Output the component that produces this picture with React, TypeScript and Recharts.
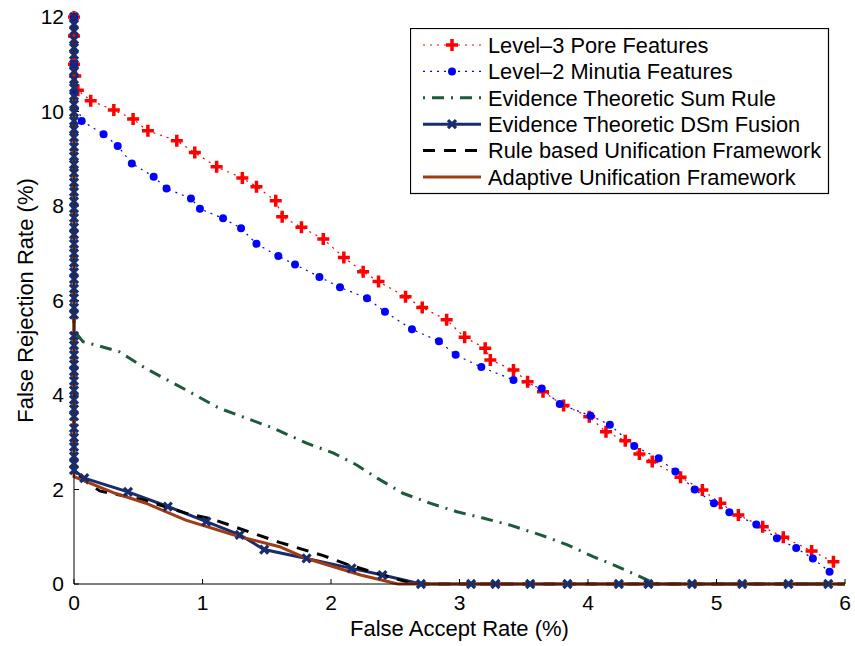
import React from "react";
import { LineChart, Line, XAxis, YAxis } from "recharts";

const FONT = "'Liberation Sans', Arial, Helvetica, sans-serif";

// False Accept Rate (%) vs False Rejection Rate (%)
const pore = [
  { x: 0, y: 12 }, { x: 0, y: 11.6 }, { x: 0, y: 11.0 }, { x: 0.01, y: 10.75 },
  { x: 0.03, y: 10.45 }, { x: 0.13, y: 10.23 }, { x: 0.31, y: 10.03 }, { x: 0.46, y: 9.84 },
  { x: 0.575, y: 9.59 }, { x: 0.8, y: 9.38 }, { x: 0.94, y: 9.13 }, { x: 1.11, y: 8.83 },
  { x: 1.31, y: 8.59 }, { x: 1.42, y: 8.41 }, { x: 1.57, y: 8.11 }, { x: 1.62, y: 7.77 },
  { x: 1.77, y: 7.55 }, { x: 1.94, y: 7.3 }, { x: 2.1, y: 6.91 }, { x: 2.25, y: 6.61 },
  { x: 2.37, y: 6.4 }, { x: 2.58, y: 6.08 }, { x: 2.71, y: 5.85 }, { x: 2.9, y: 5.59 },
  { x: 3.04, y: 5.22 }, { x: 3.2, y: 4.99 }, { x: 3.24, y: 4.74 }, { x: 3.42, y: 4.53 },
  { x: 3.53, y: 4.28 }, { x: 3.65, y: 4.07 }, { x: 3.81, y: 3.78 }, { x: 4.01, y: 3.54 },
  { x: 4.14, y: 3.22 }, { x: 4.29, y: 3.03 }, { x: 4.4, y: 2.75 }, { x: 4.5, y: 2.59 },
  { x: 4.72, y: 2.26 }, { x: 4.89, y: 1.99 }, { x: 5.03, y: 1.71 }, { x: 5.17, y: 1.46 },
  { x: 5.36, y: 1.21 }, { x: 5.52, y: 0.99 }, { x: 5.74, y: 0.7 }, { x: 5.91, y: 0.47 },
];

const minutia = [
  { x: 0, y: 12 }, { x: 0, y: 11.0 }, { x: 0, y: 10.4 }, { x: 0.06, y: 9.8 },
  { x: 0.23, y: 9.52 }, { x: 0.34, y: 9.27 }, { x: 0.45, y: 8.9 }, { x: 0.62, y: 8.62 },
  { x: 0.72, y: 8.37 }, { x: 0.91, y: 8.16 }, { x: 0.98, y: 7.94 }, { x: 1.16, y: 7.74 },
  { x: 1.3, y: 7.53 }, { x: 1.42, y: 7.2 }, { x: 1.59, y: 6.94 }, { x: 1.72, y: 6.76 },
  { x: 1.91, y: 6.5 }, { x: 2.07, y: 6.28 }, { x: 2.28, y: 6.05 }, { x: 2.42, y: 5.76 },
  { x: 2.63, y: 5.39 }, { x: 2.84, y: 5.14 }, { x: 2.97, y: 4.85 }, { x: 3.17, y: 4.59 },
  { x: 3.42, y: 4.32 }, { x: 3.64, y: 4.14 }, { x: 3.78, y: 3.81 }, { x: 4.02, y: 3.56 },
  { x: 4.17, y: 3.37 }, { x: 4.36, y: 2.92 }, { x: 4.55, y: 2.66 }, { x: 4.68, y: 2.38 },
  { x: 4.83, y: 2.0 }, { x: 4.98, y: 1.71 }, { x: 5.1, y: 1.52 }, { x: 5.31, y: 1.26 },
  { x: 5.47, y: 0.97 }, { x: 5.62, y: 0.76 }, { x: 5.75, y: 0.54 }, { x: 5.88, y: 0.26 },
];

const sumRule = [
  { x: 0.02, y: 5.3 }, { x: 0.07, y: 5.13 }, { x: 0.35, y: 4.92 }, { x: 0.56, y: 4.56 },
  { x: 0.87, y: 4.11 }, { x: 1.13, y: 3.72 }, { x: 1.34, y: 3.51 }, { x: 1.55, y: 3.3 },
  { x: 1.81, y: 2.98 }, { x: 2.02, y: 2.77 }, { x: 2.2, y: 2.52 }, { x: 2.36, y: 2.24 },
  { x: 2.56, y: 1.92 }, { x: 2.77, y: 1.71 }, { x: 2.98, y: 1.53 }, { x: 3.19, y: 1.39 },
  { x: 3.39, y: 1.25 }, { x: 3.63, y: 1.04 }, { x: 3.84, y: 0.83 }, { x: 4.04, y: 0.58 },
  { x: 4.23, y: 0.37 }, { x: 4.49, y: 0.05 }, { x: 4.55, y: 0 }, { x: 6, y: 0 },
];

const dsm = [
  { x: 0, y: 12 }, { x: 0, y: 11.85 }, { x: 0, y: 11.7 }, { x: 0, y: 11.52 }, { x: 0, y: 11.35 },
  { x: 0, y: 11.2 }, { x: 0, y: 11.0 }, { x: 0, y: 10.85 }, { x: 0, y: 10.68 }, { x: 0, y: 10.5 },
  { x: 0, y: 10.33 }, { x: 0, y: 10.15 }, { x: 0, y: 9.98 }, { x: 0, y: 9.8 }, { x: 0, y: 9.62 },
  { x: 0, y: 9.45 }, { x: 0, y: 9.25 }, { x: 0, y: 9.05 }, { x: 0, y: 8.88 }, { x: 0, y: 8.7 },
  { x: 0, y: 8.5 }, { x: 0, y: 8.3 }, { x: 0, y: 8.1 }, { x: 0, y: 7.95 }, { x: 0, y: 7.75 },
  { x: 0, y: 7.55 }, { x: 0, y: 7.4 }, { x: 0, y: 7.2 }, { x: 0, y: 7.0 }, { x: 0, y: 6.8 },
  { x: 0, y: 6.6 }, { x: 0, y: 6.45 }, { x: 0, y: 6.25 }, { x: 0, y: 6.05 }, { x: 0, y: 5.85 },
  { x: 0, y: 5.7 }, { x: 0, y: 5.25 }, { x: 0, y: 5.05 }, { x: 0, y: 4.85 }, { x: 0, y: 4.65 },
  { x: 0, y: 4.5 }, { x: 0, y: 4.3 }, { x: 0, y: 4.1 }, { x: 0, y: 3.9 }, { x: 0, y: 3.7 },
  { x: 0, y: 3.55 }, { x: 0, y: 3.3 }, { x: 0, y: 3.1 }, { x: 0, y: 2.9 }, { x: 0, y: 2.7 },
  { x: 0, y: 2.55 }, { x: 0, y: 2.41 }, { x: 0.08, y: 2.24 }, { x: 0.42, y: 1.95 },
  { x: 0.73, y: 1.64 }, { x: 1.03, y: 1.32 }, { x: 1.29, y: 1.04 }, { x: 1.48, y: 0.73 },
  { x: 1.81, y: 0.54 }, { x: 2.16, y: 0.33 }, { x: 2.4, y: 0.19 }, { x: 2.7, y: 0 },
  { x: 3.09, y: 0 }, { x: 3.28, y: 0 }, { x: 3.55, y: 0 }, { x: 3.84, y: 0 }, { x: 4.24, y: 0 },
  { x: 4.47, y: 0 }, { x: 4.81, y: 0 }, { x: 5.2, y: 0 }, { x: 5.56, y: 0 }, { x: 5.87, y: 0 },
];

const ruleBased = [
  { x: 0, y: 12 }, { x: 0, y: 2.34 }, { x: 0.2, y: 1.97 }, { x: 0.54, y: 1.78 },
  { x: 0.87, y: 1.5 }, { x: 1.08, y: 1.37 }, { x: 1.26, y: 1.2 }, { x: 1.6, y: 0.88 },
  { x: 1.94, y: 0.6 }, { x: 2.12, y: 0.42 }, { x: 2.45, y: 0.15 }, { x: 2.65, y: 0 },
  { x: 6, y: 0 },
];

const adaptive = [
  { x: 0, y: 12 }, { x: 0, y: 2.27 }, { x: 0.32, y: 1.92 }, { x: 0.56, y: 1.71 },
  { x: 0.87, y: 1.35 }, { x: 1.29, y: 1.0 }, { x: 1.6, y: 0.79 }, { x: 1.81, y: 0.54 },
  { x: 2.23, y: 0.19 }, { x: 2.52, y: 0 }, { x: 6, y: 0 },
];

const xTicks = [0, 1, 2, 3, 4, 5, 6];
const yTicks = [0, 2, 4, 6, 8, 10, 12];

const RED = "#ff0000";
const BLUE = "#0000ff";
const GREEN = "#1e5a3a";
const NAVY = "#172d6e";
const BROWN = "#a03c14";

const PlusDot = (p: any) => {
  const { cx, cy, index } = p;
  if (cx == null || cy == null) return <g key={index} />;
  return (
    <path
      key={index}
      d={`M${cx - 6},${cy}H${cx + 6}M${cx},${cy - 6}V${cy + 6}`}
      stroke={RED}
      strokeWidth={3.5}
      fill="none"
    />
  );
};

const CircleDot = (p: any) => {
  const { cx, cy, index } = p;
  if (cx == null || cy == null) return <g key={index} />;
  return <circle key={index} cx={cx} cy={cy} r={4} fill={BLUE} stroke="none" />;
};

const CrossDot = (p: any) => {
  const { cx, cy, index } = p;
  if (cx == null || cy == null) return <g key={index} />;
  return (
    <path
      key={index}
      d={`M${cx - 4},${cy - 4}L${cx + 4},${cy + 4}M${cx - 4},${cy + 4}L${cx + 4},${cy - 4}`}
      stroke={NAVY}
      strokeWidth={3.2}
      fill="none"
    />
  );
};

const legendRows = [
  { name: "Level–3 Pore Features", color: RED, dash: "2 5", width: 1.2, marker: "plus" },
  { name: "Level–2 Minutia Features", color: BLUE, dash: "2 5", width: 1.2, marker: "circle" },
  { name: "Evidence Theoretic Sum Rule", color: GREEN, dash: "2 7 12 7", width: 3, marker: "" },
  { name: "Evidence Theoretic DSm Fusion", color: NAVY, dash: "", width: 3, marker: "cross" },
  { name: "Rule based Unification Framework", color: "#000", dash: "12 9", width: 3, marker: "" },
  { name: "Adaptive Unification Framework", color: BROWN, dash: "", width: 3, marker: "" },
];

const LegendBox = () => (
  <svg
    width={420}
    height={167}
    style={{ position: "absolute", left: 410, top: 28 }}
  >
    <rect x={0.5} y={0.5} width={418} height={165} fill="#fff" stroke="#000" strokeWidth={1.2} />
    {legendRows.map((r, i) => {
      const y = 17 + i * 26.4;
      return (
        <g key={r.name}>
          <line
            x1={13}
            x2={71}
            y1={y}
            y2={y}
            stroke={r.color}
            strokeWidth={r.width}
            strokeDasharray={r.dash || undefined}
          />
          {r.marker === "plus" && (
            <path d={`M36,${y}H48M42,${y - 6}V${y + 6}`} stroke={RED} strokeWidth={3.5} />
          )}
          {r.marker === "circle" && <circle cx={42} cy={y} r={4} fill={BLUE} />}
          {r.marker === "cross" && (
            <path
              d={`M38,${y - 4}L46,${y + 4}M38,${y + 4}L46,${y - 4}`}
              stroke={NAVY}
              strokeWidth={3.2}
            />
          )}
          <text x={78} y={y} dy="0.36em" fontSize={21.8} fontFamily={FONT} fill="#000">
            {r.name}
          </text>
        </g>
      );
    })}
  </svg>
);

const YLabel = (props: any) => {
  const vb = props.viewBox || {};
  const cy = (vb.y || 17) + (vb.height || 567) / 2;
  return (
    <text
      x={25}
      y={cy}
      transform={`rotate(-90, 25, ${cy})`}
      textAnchor="middle"
      dominantBaseline="central"
      fontSize={22}
      fontFamily={FONT}
      fill="#000"
    >
      False Rejection Rate (%)
    </text>
  );
};

const tickStyle = { fill: "#000", fontSize: 21, fontFamily: FONT };

export default function App() {
  return (
    <div style={{ position: "absolute", left: 0, top: 0, width: 855, height: 646, background: "#fff" }}>
      <LineChart width={855} height={646} margin={{ top: 17, right: 10, bottom: 0, left: 0 }}>
        <XAxis
          dataKey="x"
          type="number"
          domain={[0, 6]}
          ticks={xTicks}
          height={62}
          stroke="#000"
          tickSize={-5}
          tickMargin={16}
          tick={tickStyle}
          label={{
            value: "False Accept Rate (%)",
            position: "insideBottom",
            offset: 10,
            fill: "#000",
            fontSize: 22,
            fontFamily: FONT,
          }}
        />
        <XAxis
          xAxisId="top"
          dataKey="x"
          type="number"
          orientation="top"
          domain={[0, 6]}
          ticks={xTicks}
          height={0}
          stroke="#000"
          tickSize={-5}
          tick={false}
        />
        <YAxis
          type="number"
          domain={[0, 12]}
          ticks={yTicks}
          width={74}
          stroke="#000"
          tickSize={-5}
          tickMargin={15}
          tick={tickStyle}
          label={<YLabel />}
        />
        <YAxis
          yAxisId="right"
          orientation="right"
          type="number"
          domain={[0, 12]}
          ticks={yTicks}
          width={0}
          stroke="#000"
          tickSize={-5}
          tick={false}
        />
        <Line
          data={pore}
          dataKey="y"
          type="linear"
          stroke={RED}
          strokeWidth={1.2}
          strokeDasharray="2 5"
          dot={PlusDot}
          activeDot={false}
          isAnimationActive={false}
        />
        <Line
          data={minutia}
          dataKey="y"
          type="linear"
          stroke={BLUE}
          strokeWidth={1.2}
          strokeDasharray="2 5"
          dot={CircleDot}
          activeDot={false}
          isAnimationActive={false}
        />
        <Line
          data={sumRule}
          dataKey="y"
          type="linear"
          stroke={GREEN}
          strokeWidth={3}
          strokeDasharray="12 7 2 7"
          dot={false}
          activeDot={false}
          isAnimationActive={false}
        />
        <Line
          data={dsm}
          dataKey="y"
          type="linear"
          stroke={NAVY}
          strokeWidth={3}
          dot={CrossDot}
          activeDot={false}
          isAnimationActive={false}
        />
        <Line
          data={ruleBased}
          dataKey="y"
          type="linear"
          stroke="#000"
          strokeWidth={3}
          strokeDasharray="12 9"
          dot={false}
          activeDot={false}
          isAnimationActive={false}
        />
        <Line
          data={adaptive}
          dataKey="y"
          type="linear"
          stroke={BROWN}
          strokeWidth={3}
          dot={false}
          activeDot={false}
          isAnimationActive={false}
        />
      </LineChart>
      <LegendBox />
    </div>
  );
}
